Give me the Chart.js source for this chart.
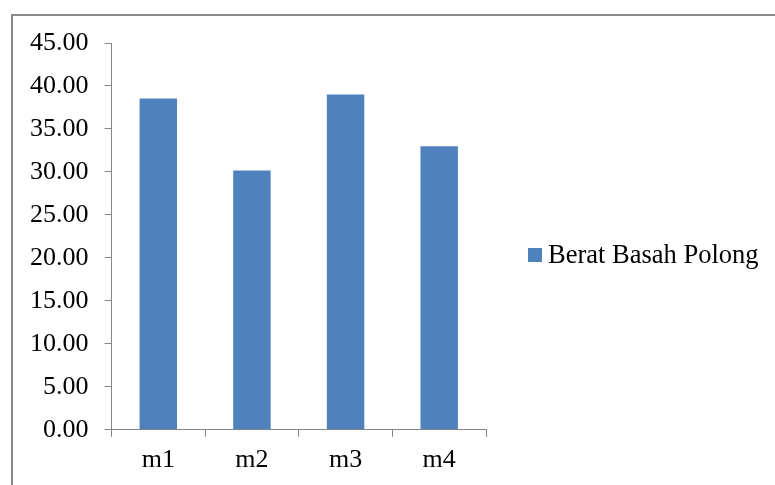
<!DOCTYPE html>
<html>
<head>
<meta charset="utf-8">
<script src="https://cdn.jsdelivr.net/npm/chart.js@4/dist/chart.umd.min.js"></script>
<style>
  body { margin: 0; background: #fff; overflow: hidden; }
  #frame { position: absolute; left: 11px; top: 14px; width: 800px; height: 500px;
           border-left: 2px solid #8a8a8a; border-top: 2px solid #8a8a8a; }
  #chart { position: absolute; left: 0; top: 0; }
</style>
</head>
<body>
<div id="frame"></div>
<canvas id="chart" width="775" height="485"></canvas>
<script>
// data
const categories = ['m1', 'm2', 'm3', 'm4'];
const beratBasahPolong = [38.55, 30.17, 39.01, 32.98];
const seriesName = 'Berat Basah Polong';
const barColor = '#4F81BD';
const axisColor = '#868686';
const fontFamily = "'Liberation Serif', 'Times New Roman', serif";

// simple legend drawn next to the plot, like the Excel one
const sideLegend = {
  id: 'sideLegend',
  afterDraw(chart) {
    const ctx = chart.ctx;
    const ds = chart.data.datasets[0];
    ctx.save();
    ctx.fillStyle = ds.backgroundColor;
    ctx.fillRect(528, 248, 14, 14);
    ctx.fillStyle = '#000';
    ctx.font = '26.5px ' + fontFamily;
    ctx.textBaseline = 'middle';
    ctx.fillText(ds.label, 548, 256);
    ctx.restore();
  }
};

new Chart(document.getElementById('chart'), {
  type: 'bar',
  data: {
    labels: categories,
    datasets: [{
      label: seriesName,
      data: beratBasahPolong,
      backgroundColor: barColor,
      categoryPercentage: 1.0,
      barPercentage: 0.4
    }]
  },
  options: {
    responsive: false,
    animation: false,
    layout: { padding: { left: 14, top: 43, right: 289, bottom: 1 } },
    plugins: {
      legend: { display: false },
      tooltip: { enabled: false }
    },
    scales: {
      x: {
        grid: { drawOnChartArea: false, color: axisColor, tickLength: 7, offset: true },
        border: { color: axisColor, width: 1 },
        ticks: { color: '#000', font: { family: fontFamily, size: 26 }, padding: 8 }
      },
      y: {
        min: 0,
        max: 45,
        grid: { drawOnChartArea: false, color: axisColor, tickLength: 7 },
        border: { color: axisColor, width: 1 },
        ticks: {
          stepSize: 5,
          color: '#000',
          font: { family: fontFamily, size: 26 },
          padding: 16,
          callback: v => v.toFixed(2)
        }
      }
    }
  },
  plugins: [sideLegend]
});
</script>
</body>
</html>
